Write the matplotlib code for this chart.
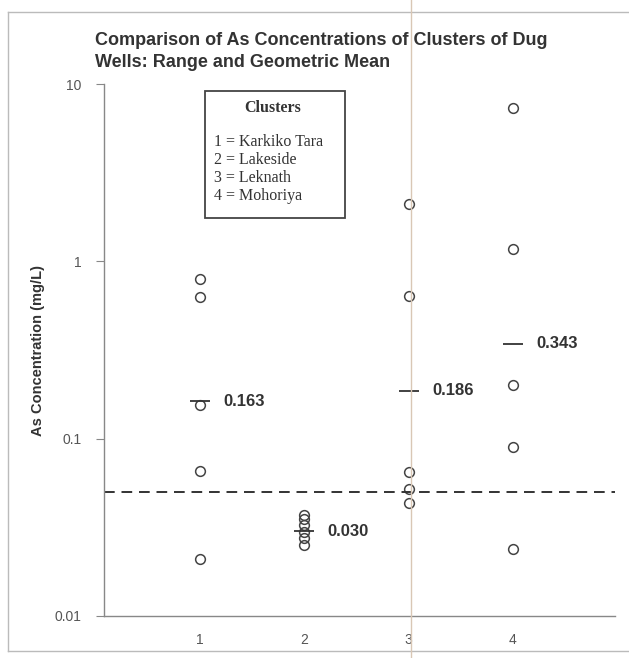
import numpy as np
import matplotlib.pyplot as plt
from matplotlib.lines import Line2D
from matplotlib.patches import Rectangle

# well concentrations per cluster (mg/L)
cluster_ids = [1, 2, 3, 4]
cluster_names = ["Karkiko Tara", "Lakeside", "Leknath", "Mohoriya"]
conc_1 = [0.80, 0.63, 0.155, 0.066, 0.021]
conc_2 = [0.037, 0.035, 0.0326, 0.0298, 0.0275, 0.0251]
conc_3 = [2.1, 0.64, 0.065, 0.052, 0.0434]
conc_4 = [7.3, 1.18, 0.200, 0.090, 0.0237]
geo_means = [0.163, 0.030, 0.186, 0.343]
guideline = 0.05

plt.rcParams["font.family"] = ["Liberation Sans", "DejaVu Sans"]

fig = plt.figure(figsize=(6.29, 6.58), dpi=100)
ax = fig.add_axes([0.165, 0.064, 0.813, 0.808])

for cid, vals in zip(cluster_ids, [conc_1, conc_2, conc_3, conc_4]):
    ax.plot([cid] * len(vals), vals, ls="none", marker="o", ms=7,
            mfc="none", mec="#444444", mew=1.1)

ax.plot(cluster_ids, geo_means, ls="none", marker="_", ms=15,
        mec="#333333", mew=1.3)
for cid, gm in zip(cluster_ids, geo_means):
    ax.annotate(f"{gm:.3f}", (cid, gm), xytext=(17, 0), textcoords="offset points",
                va="center", ha="left", fontsize=12, fontweight="bold", color="#333333")

ax.axhline(guideline, color="#333333", lw=1.4, ls=(0, (5.5, 3.5)))

ax.set_yscale("log")
ax.set_ylim(0.01, 10)
ax.set_xlim(0.08, 4.98)
ax.set_yticks([0.01, 0.1, 1, 10])
ax.set_yticklabels(["0.01", "0.1", "1", "10"])
ax.minorticks_off()
ax.set_xticks(cluster_ids)
ax.set_xticklabels([str(c) for c in cluster_ids])
ax.tick_params(axis="y", length=6, color="#888888", labelcolor="#555555", labelsize=10, pad=10)
ax.tick_params(axis="x", length=0, labelcolor="#555555", labelsize=10, pad=12)
ax.spines[["top", "right"]].set_visible(False)
for s in ["left", "bottom"]:
    ax.spines[s].set_color("#888888")
    ax.spines[s].set_linewidth(1.0)

ax.set_ylabel("As Concentration (mg/L)", fontsize=10.5, fontweight="bold",
              color="#333333", labelpad=7)

fig.text(0.151, 0.951, "Comparison of As Concentrations of Clusters of Dug\nWells: Range and Geometric Mean",
         fontsize=13, fontweight="bold", color="#333333", va="top", ha="left", linespacing=1.4)

# clusters key box
ax.add_patch(Rectangle((0.326, 0.668), 0.222, 0.193, transform=fig.transFigure,
                       fill=False, ec="#444444", lw=1.3, clip_on=False))
fig.text(0.434, 0.848, "Clusters", family="Liberation Serif", fontsize=11.5,
         fontweight="bold", ha="center", va="top", color="#333333")
key_lines = "\n".join(f"{c} = {n}" for c, n in zip(cluster_ids, cluster_names))
fig.text(0.341, 0.797, key_lines, family="Liberation Serif", fontsize=11.5,
         ha="left", va="top", color="#333333", linespacing=1.17)

# outer chart border and page fold
fig.add_artist(Line2D([0.012, 1.0], [0.982, 0.982], color="#bbbbbb", lw=1.0))
fig.add_artist(Line2D([0.012, 0.012], [0.982, 0.011], color="#bbbbbb", lw=1.0))
fig.add_artist(Line2D([0.012, 1.0], [0.011, 0.011], color="#bbbbbb", lw=1.0))
fig.add_artist(Line2D([0.654, 0.654], [0.0, 1.0], color="#d9c7b5", lw=1.0))

fig.savefig("out.png", dpi=100)
